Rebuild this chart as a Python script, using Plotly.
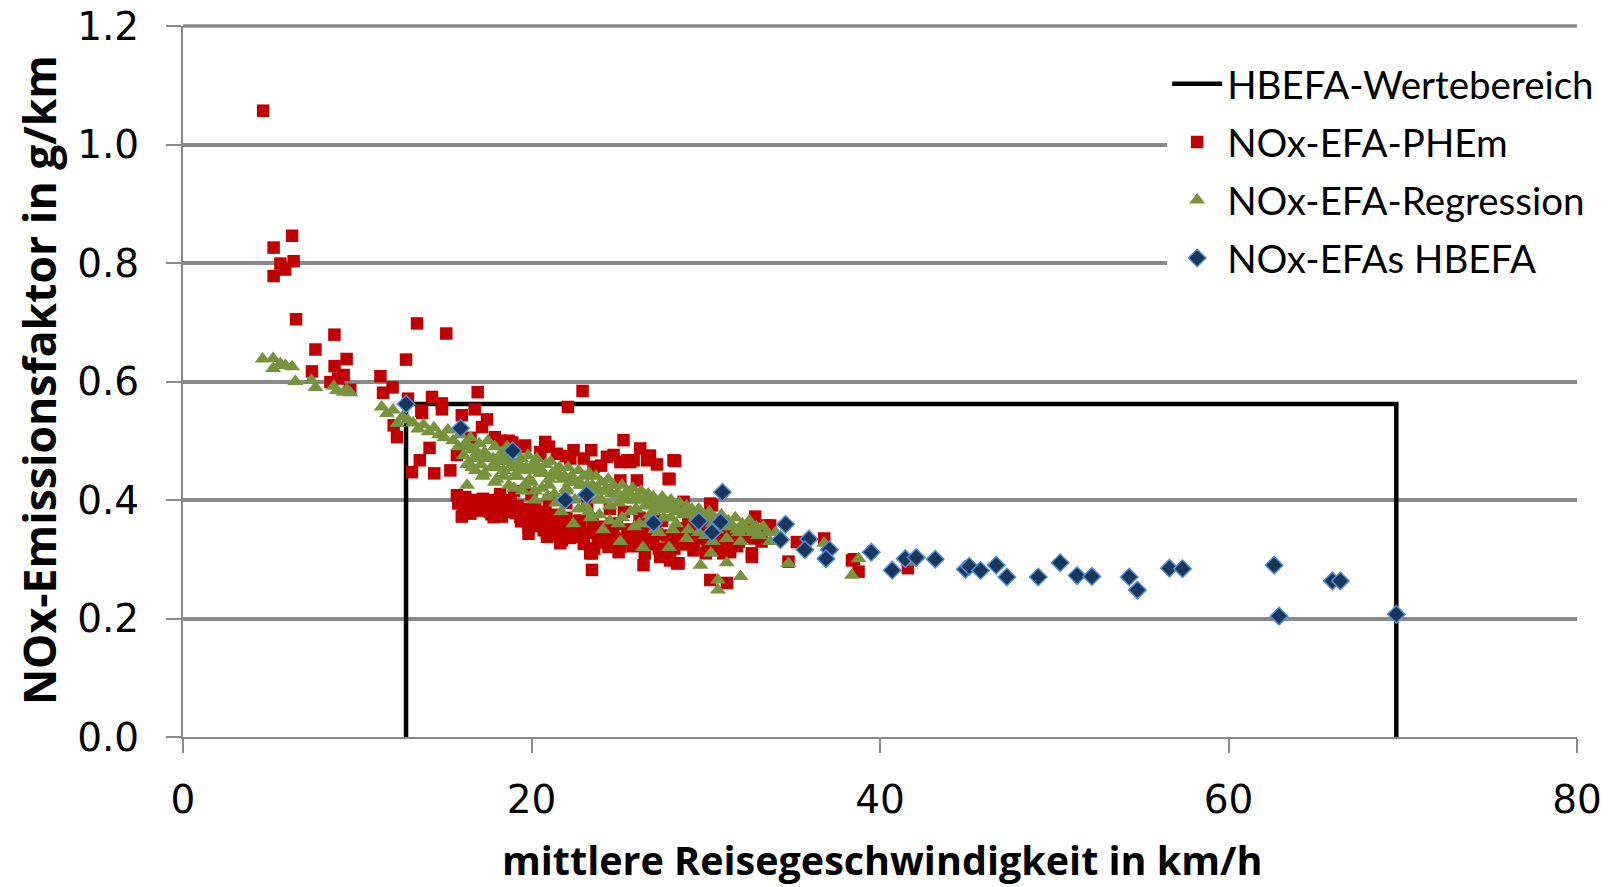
import plotly.graph_objects as go

# NOx emission factors (g/km) against mean travel speed (km/h)

# HBEFA emission factors
hbefa_speed = [12.8, 15.93, 18.92, 21.94, 23.16, 27.0, 29.6, 30.96, 30.85, 30.36,
               34.58, 34.29, 35.92, 35.69, 37.1, 36.9, 39.5, 40.7, 41.45, 42.08,
               43.17, 44.9, 45.12, 45.77, 46.67, 47.28, 49.08, 50.34, 51.31, 52.16,
               54.3, 54.77, 56.61, 57.36, 62.62, 62.9, 65.96, 66.42, 69.63]
hbefa_nox = [0.562, 0.521, 0.483, 0.400, 0.409, 0.361, 0.364, 0.413, 0.363, 0.345,
             0.359, 0.333, 0.334, 0.316, 0.316, 0.301, 0.312, 0.2815, 0.301, 0.303,
             0.300, 0.283, 0.288, 0.281, 0.290, 0.270, 0.270, 0.294, 0.2725, 0.271,
             0.270, 0.248, 0.285, 0.284, 0.290, 0.204, 0.2635, 0.2635, 0.207]

# PHEm emission factors
phem_speed = [
    4.6, 5.2, 6.26, 5.59, 5.87, 6.35, 5.2, 6.49, 7.6, 8.69, 9.39, 7.4, 8.7, 9.22, 8.46, 9.6, 8.9,
    11.33, 12.03, 11.48, 12.8, 13.43, 15.11, 12.28, 12.09, 12.91, 14.29, 14.86, 14.86, 13.72,
    13.68, 16.91, 16.0, 16.74, 17.45, 17.16, 22.93, 22.09, 17.9, 18.7,
    13.14, 14.42, 13.59, 14.15, 15.34, 15.72, 19.45, 19.64, 20.79, 20.5, 20.5, 21.46, 22.41,
    22.23, 23.43, 25.28, 24.71, 25.48, 26.24, 26.63, 28.15, 28.25, 27.87, 27.92, 23.56, 24.33,
    25.1, 25.86, 25.67, 26.05, 25.1, 18.2, 18.9, 16.5, 21.0, 22.0, 23.0, 24.0, 26.8, 27.2,
    15.8, 16.39, 16.49, 17.25, 17.83, 17.06, 18.4, 18.78, 19.45, 19.36, 19.83, 19.83, 20.89,
    20.89, 21.75, 21.65, 23.37, 23.47, 23.47, 24.42, 25.1, 26.43, 27.96, 27.39, 28.44, 28.35,
    27.86, 29.3, 30.26, 31.22, 32.65, 32.65, 35.23, 36.8, 34.75, 38.39, 38.77, 28.73, 30.26,
    30.36, 32.84, 33.51, 33.7, 15.72, 16.1, 16.8, 17.6, 18.1, 18.9, 19.9, 20.3, 20.6, 21.2,
    21.5, 22.1, 22.5, 22.9, 23.8, 24.1, 24.8, 25.5, 26.0, 26.8, 27.3, 28.0, 28.8, 29.5, 30.0,
    30.8, 31.5, 32.0, 32.3, 33.2, 31.0, 29.0, 27.5, 26.2, 25.3, 24.5, 23.2, 22.0, 21.0, 20.0,
    19.0, 41.6, 38.5, 29.8, 31.6, 24.6, 22.7, 20.2, 18.5, 17.0,
    15.9, 16.3, 16.6, 17.0, 17.4, 17.7, 18.0, 18.3, 18.6, 19.1, 19.4, 19.7, 20.1, 20.4, 20.7,
    21.0, 21.3, 21.6, 21.9, 22.2, 22.6, 23.0, 23.3, 23.6, 24.0, 24.3, 24.7, 25.0, 25.4, 25.8,
    26.1, 26.5, 26.9, 27.2, 27.7, 28.2, 28.6, 29.1, 29.6, 30.1, 30.6, 31.1, 31.8, 32.4, 33.0,
    17.2, 18.5, 19.2, 20.0, 20.9, 21.8, 22.4, 23.9, 25.6, 27.0, 28.4, 29.9, 31.4, 16.0, 17.8,
    16.2, 16.9, 17.5, 18.2, 18.8, 19.5, 20.2, 20.8, 21.4, 22.0, 22.8, 23.5, 24.2, 24.9, 25.7,
    26.4, 27.1, 27.8, 28.6, 29.3, 30.2, 31.0, 31.9, 32.8,
]
phem_nox = [
    1.057, 0.826, 0.846, 0.799, 0.789, 0.803, 0.778, 0.705, 0.654, 0.679, 0.638, 0.617, 0.626,
    0.611, 0.599, 0.586, 0.605,
    0.609, 0.590, 0.581, 0.637, 0.698, 0.681, 0.506, 0.526, 0.571, 0.574, 0.563, 0.553, 0.547,
    0.551, 0.582, 0.543, 0.553, 0.536, 0.523, 0.584, 0.557, 0.506, 0.500,
    0.447, 0.445, 0.467, 0.488, 0.450, 0.476, 0.490, 0.492, 0.498, 0.478, 0.481, 0.478, 0.484,
    0.470, 0.484, 0.501, 0.476, 0.467, 0.487, 0.467, 0.467, 0.466, 0.436, 0.435, 0.456, 0.473,
    0.464, 0.467, 0.464, 0.433, 0.433, 0.500, 0.497, 0.505, 0.490, 0.474, 0.470, 0.458, 0.475,
    0.460,
    0.394, 0.394, 0.377, 0.388, 0.371, 0.394, 0.400, 0.391, 0.371, 0.371, 0.352, 0.343, 0.343,
    0.338, 0.332, 0.327, 0.310, 0.282, 0.310, 0.321, 0.321, 0.290, 0.298, 0.304, 0.293, 0.293,
    0.304, 0.321, 0.265, 0.260, 0.304, 0.310, 0.329, 0.335, 0.296, 0.298, 0.279, 0.397, 0.394,
    0.391, 0.372, 0.357, 0.357, 0.408, 0.385, 0.400, 0.380, 0.395, 0.380, 0.365, 0.375, 0.360,
    0.355, 0.345, 0.350, 0.338, 0.340, 0.330, 0.350, 0.335, 0.340, 0.330, 0.325, 0.318, 0.330,
    0.340, 0.335, 0.310, 0.320, 0.330, 0.340, 0.355, 0.330, 0.350, 0.360, 0.365, 0.370, 0.380,
    0.385, 0.390, 0.395, 0.400, 0.410, 0.415, 0.285, 0.300, 0.345, 0.345, 0.360, 0.365, 0.385,
    0.390, 0.395,
    0.400, 0.385, 0.398, 0.382, 0.392, 0.376, 0.386, 0.372, 0.384, 0.378, 0.364, 0.383, 0.356,
    0.368, 0.349, 0.366, 0.340, 0.360, 0.342, 0.336, 0.352, 0.326, 0.345, 0.318, 0.338, 0.328,
    0.346, 0.312, 0.332, 0.322, 0.340, 0.310, 0.330, 0.342, 0.312, 0.318, 0.352, 0.328, 0.345,
    0.326, 0.338, 0.345, 0.322, 0.338, 0.348, 0.402, 0.398, 0.390, 0.380, 0.372, 0.362, 0.358,
    0.346, 0.350, 0.338, 0.335, 0.355, 0.312, 0.372, 0.395,
    0.405, 0.390, 0.400, 0.410, 0.395, 0.385, 0.390, 0.380, 0.375, 0.370, 0.365, 0.360, 0.355,
    0.360, 0.350, 0.345, 0.350, 0.340, 0.325, 0.315, 0.330, 0.310, 0.330, 0.335,
]

# Regression emission factors
regr_speed = [
    4.57, 5.17, 5.17, 5.59, 5.87, 6.26, 6.45, 7.37, 7.6, 8.65, 9.22, 9.6, 8.84, 9.4,
    11.4, 11.7, 12.05, 12.3, 12.6, 12.9, 13.2, 13.5,
    13.8, 14.1, 14.4, 14.7, 15.0, 15.2, 15.5, 15.8, 15.9, 16.1, 16.2, 16.3, 16.3,
    16.5, 16.6, 16.7, 16.8, 17.0, 17.1, 17.2, 17.3, 17.5, 17.6, 17.7, 17.9, 18.0, 18.1, 18.3,
    18.4, 18.6, 18.7, 18.8, 19.0, 19.1, 19.2,
    19.4, 19.5, 19.6, 19.8, 19.9, 20.1, 20.2, 20.3, 20.5, 20.6, 20.8, 21.0, 21.1, 21.3, 21.4,
    21.6, 21.7, 21.9, 22.0, 22.1,
    22.3, 22.4, 22.5, 22.7, 22.8, 23.0, 23.1, 23.3, 23.4, 23.5, 23.7, 23.8, 24.0, 24.1, 24.2,
    24.4, 24.5, 24.7, 24.9, 25.0, 25.1,
    25.2, 25.4, 25.5, 25.7, 25.8, 26.0, 26.2, 26.3, 26.4, 26.5, 26.7, 26.8, 27.0, 27.1, 27.3,
    27.5, 27.6, 27.8, 27.9, 28.0,
    28.2, 28.3, 28.5, 28.7, 28.9, 29.0, 29.2, 29.4, 29.6, 29.7, 29.9, 30.0, 30.2, 30.3, 30.5,
    30.6, 30.7, 30.7, 30.9, 31.0,
    31.2, 31.3, 31.5, 31.7, 31.9, 32.0, 32.1, 32.3, 32.5, 32.7, 32.9, 33.1, 33.3, 33.5, 33.7,
    34.0,
    34.75, 38.39, 38.77, 41.6, 36.8,
    16.4, 16.9, 17.4, 17.8, 18.2, 18.5, 18.9, 19.3, 19.7, 20.0, 20.4, 20.7, 21.2, 21.5, 21.8,
    22.2, 22.6, 22.9, 23.2, 23.6, 23.9, 24.3, 24.6, 25.0, 25.3, 25.6, 25.9, 26.1, 26.6, 26.9,
    27.2, 27.4, 27.7, 28.1, 28.4, 28.8, 29.1, 29.5, 29.8, 30.1, 30.4, 30.8, 31.1, 31.4, 31.8,
    32.2, 32.6, 33.0, 17.0, 18.0, 19.0, 20.0, 21.0, 22.0, 23.0, 24.0, 25.0, 26.0, 27.0, 28.0,
    16.6, 17.3, 17.9, 18.4, 19.0, 19.6, 20.2, 20.9, 21.4, 22.0, 22.7, 23.3, 23.9, 24.5, 25.2,
    25.9, 26.6, 27.3, 28.1, 28.9, 29.6, 30.4, 31.2, 32.0,
]
regr_nox = [
    0.638, 0.639, 0.622, 0.630, 0.627, 0.625, 0.600, 0.602, 0.590, 0.592, 0.582, 0.581, 0.585,
    0.586,
    0.557, 0.546, 0.552, 0.529, 0.540, 0.535, 0.530, 0.520,
    0.527, 0.515, 0.522, 0.510, 0.505, 0.518, 0.500, 0.490, 0.510, 0.475, 0.495, 0.460, 0.425,
    0.505, 0.485, 0.470, 0.450, 0.495, 0.460, 0.440, 0.480, 0.500, 0.470, 0.455, 0.490, 0.435,
    0.465, 0.480, 0.450, 0.490, 0.425, 0.470, 0.455, 0.480, 0.440,
    0.470, 0.415, 0.450, 0.475, 0.435, 0.460, 0.400, 0.470, 0.445, 0.420, 0.460, 0.435, 0.465,
    0.410, 0.450, 0.455, 0.380, 0.440, 0.420, 0.455,
    0.440, 0.360, 0.400, 0.450, 0.425, 0.440, 0.390, 0.445, 0.370, 0.425, 0.440, 0.400, 0.430,
    0.350, 0.415, 0.435, 0.390, 0.425, 0.410, 0.360, 0.330,
    0.425, 0.400, 0.415, 0.380, 0.420, 0.400, 0.360, 0.415, 0.320, 0.390, 0.410, 0.375, 0.405,
    0.350, 0.395, 0.405, 0.370, 0.395, 0.320, 0.400,
    0.390, 0.360, 0.395, 0.375, 0.390, 0.350, 0.385, 0.370, 0.385, 0.290, 0.375, 0.340, 0.380,
    0.310, 0.370, 0.350, 0.265, 0.248, 0.375, 0.360,
    0.294, 0.365, 0.355, 0.370, 0.345, 0.271, 0.360, 0.350, 0.365, 0.345, 0.355, 0.340, 0.355,
    0.345, 0.330, 0.345,
    0.293, 0.273, 0.301, 0.295, 0.327,
    0.490, 0.480, 0.475, 0.470, 0.475, 0.465, 0.460, 0.460, 0.455, 0.450, 0.455, 0.445, 0.445,
    0.440, 0.435, 0.430, 0.430, 0.425, 0.425, 0.420, 0.415, 0.420, 0.410, 0.410, 0.405, 0.410,
    0.400, 0.405, 0.400, 0.390, 0.390, 0.385, 0.385, 0.385, 0.380, 0.380, 0.375, 0.375, 0.370,
    0.370, 0.360, 0.365, 0.355, 0.360, 0.350, 0.355, 0.350, 0.340, 0.470, 0.455, 0.440, 0.430,
    0.425, 0.415, 0.410, 0.400, 0.395, 0.385, 0.380, 0.370,
    0.455, 0.445, 0.430, 0.440, 0.420, 0.425, 0.415, 0.405, 0.395, 0.400, 0.385, 0.380, 0.375,
    0.365, 0.370, 0.355, 0.360, 0.345, 0.350, 0.335, 0.345, 0.330, 0.335, 0.330,
]

# HBEFA value range: speed span and highest emission factor of the HBEFA set
v_min, v_max = min(hbefa_speed), max(hbefa_speed)
ef_max = max(hbefa_nox)
range_x = [v_min, v_min, v_max, v_max]
range_y = [0, ef_max, ef_max, 0]

GRID = "#898989"
FONT_TEXT = "Lato"
FONT_TITLE = "Open Sans"
FONT_TICKS = "DejaVu Sans"

fig = go.Figure()

fig.add_trace(go.Scatter(
    x=range_x, y=range_y, mode="lines", name="HBEFA-Wertebereich",
    legendgroup="range",
    line=dict(color="black", width=4.5),
))
fig.add_trace(go.Scatter(
    x=phem_speed, y=phem_nox, mode="markers", name="NOx-EFA-PHEm",
    legendgroup="phem",
    marker=dict(symbol="square", size=12.5, color="#C00000"),
))
fig.add_trace(go.Scatter(
    x=regr_speed, y=regr_nox, mode="markers", name="NOx-EFA-Regression",
    legendgroup="regr",
    marker=dict(symbol="triangle-up", size=14, color="#77933C"),
))
fig.add_trace(go.Scatter(
    x=hbefa_speed, y=hbefa_nox, mode="markers", name="NOx-EFAs HBEFA",
    legendgroup="hbefa",
    marker=dict(symbol="diamond", size=13.5, color="#17375E",
                line=dict(color="#558ED5", width=1.5)),
))

fig.update_layout(
    width=1609, height=887,
    margin=dict(l=183, r=32, t=26, b=150, autoexpand=False),
    paper_bgcolor="white", plot_bgcolor="white",
    showlegend=True,
    legend=dict(
        x=0.706, y=0.963, xanchor="left", yanchor="top",
        bgcolor="white", borderwidth=0,
        font=dict(family=FONT_TEXT, size=38.5, color="black"),
        traceorder="grouped", tracegroupgap=5, itemwidth=50,
    ),
    xaxis=dict(
        range=[0, 80], dtick=20, tick0=0, automargin=False,
        showgrid=False, zeroline=False,
        showline=True, linecolor=GRID, linewidth=2,
        ticks="outside", ticklen=14, tickwidth=2, tickcolor=GRID,
        tickfont=dict(family=FONT_TICKS, size=39, color="black"),
        ticklabelstandoff=13,
    ),
    yaxis=dict(
        range=[0, 1.2], dtick=0.2, tick0=0, tickformat=".1f", automargin=False,
        showgrid=True, gridcolor=GRID, gridwidth=3.5,
        zeroline=False,
        showline=True, linecolor=GRID, linewidth=2,
        ticks="outside", ticklen=15, tickwidth=2, tickcolor=GRID,
        tickfont=dict(family=FONT_TICKS, size=39, color="black"),
        ticklabelstandoff=19,
    ),
    # top gridline along the upper edge of the plot area
    shapes=[
        dict(type="line", xref="paper", yref="paper", x0=0, x1=1, y0=1, y1=1,
             line=dict(color=GRID, width=3.5), layer="below"),
    ],
    annotations=[
        dict(text="mittlere Reisegeschwindigkeit in km/h", xref="paper", yref="paper",
             x=0.5014, y=-0.2143, xanchor="center", yanchor="bottom", showarrow=False,
             font=dict(family=FONT_TITLE, size=39.5, color="black", weight="bold")),
        dict(text="NOx-Emissionsfaktor in g/km", xref="paper", yref="paper",
             x=-0.104, y=0.502, xanchor="center", yanchor="middle", showarrow=False,
             textangle=-90,
             font=dict(family=FONT_TITLE, size=44.5, color="black", weight="bold")),
    ],
)

fig.write_html("out.html")
